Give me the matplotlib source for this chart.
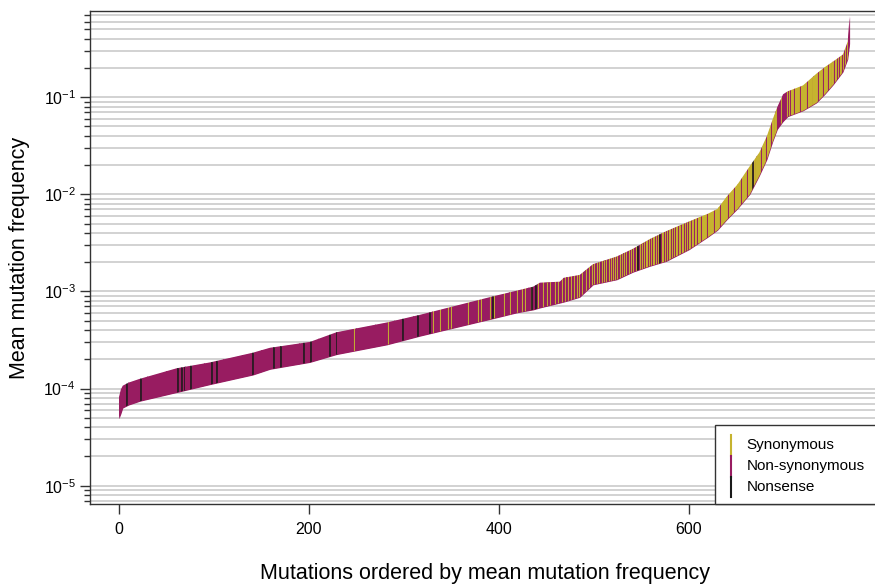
import matplotlib.pyplot as plt
from matplotlib.collections import LineCollection
from matplotlib.patches import Rectangle
from matplotlib.ticker import LogLocator, NullFormatter

plt.rcParams['font.family'] = ['Liberation Sans', 'DejaVu Sans']
plt.rcParams['mathtext.fontset'] = 'custom'
plt.rcParams['mathtext.rm'] = 'Liberation Sans'

# mutations ordered by mean frequency; band edges read at these ranks
n_mutations = 770
edge_rank = [0, 2, 4, 10, 22, 61, 96, 141, 159, 201, 229, 282, 317, 394, 419,
             436, 443, 464, 468, 485, 499, 524, 541, 559, 576, 600, 620, 630,
             640, 651, 664, 674, 682, 688, 693, 699, 704, 712, 720, 734, 743,
             752, 762, 767, 769]
upper_freq = [8.13e-5, 9.77e-5, 1.07e-4, 1.15e-4, 1.26e-4, 1.62e-4, 1.86e-4,
              2.34e-4, 2.63e-4, 3.02e-4, 3.80e-4, 4.79e-4, 5.75e-4, 8.91e-4,
              1.02e-3, 1.12e-3, 1.23e-3, 1.26e-3, 1.38e-3, 1.48e-3, 1.91e-3,
              2.29e-3, 2.75e-3, 3.47e-3, 4.17e-3, 5.25e-3, 6.31e-3, 7.08e-3,
              9.55e-3, 1.26e-2, 1.95e-2, 2.69e-2, 3.98e-2, 5.89e-2, 7.94e-2,
              0.107, 0.115, 0.123, 0.132, 0.174, 0.204, 0.234, 0.275, 0.372, 0.676]
lower_freq = [4.90e-5, 5.50e-5, 6.31e-5, 6.76e-5, 7.41e-5, 9.12e-5, 1.10e-4,
              1.38e-4, 1.58e-4, 1.86e-4, 2.24e-4, 2.82e-4, 3.47e-4, 5.25e-4,
              6.03e-4, 6.46e-4, 6.76e-4, 7.59e-4, 7.76e-4, 8.71e-4, 1.17e-3,
              1.32e-3, 1.58e-3, 1.82e-3, 2.04e-3, 2.69e-3, 3.63e-3, 4.27e-3,
              5.50e-3, 7.08e-3, 1.00e-2, 1.55e-2, 2.29e-2, 3.47e-2, 4.68e-2,
              5.62e-2, 6.31e-2, 6.76e-2, 7.24e-2, 8.71e-2, 0.107, 0.135, 0.182,
              0.245, 0.355]

nonsense_rank = [8, 23, 62, 66, 69, 76, 98, 103, 141, 163, 171, 195, 202, 222,
                 229, 299, 315, 327, 394, 435, 439, 546, 569, 667]
synonymous_rank = [
    247, 283, 331, 338, 346, 350, 367, 378, 381, 391, 395,
    405, 412, 419, 424, 427, 434, 441, 446,
    451, 454, 459, 462, 466, 469, 473, 476, 479, 482, 484, 487, 490, 492, 495, 498,
    500, 503, 505, 508, 511, 513, 516, 518, 520, 522, 524, 527, 529, 532, 534,
    537, 539, 541, 544, 548,
    550, 551, 553, 555, 556, 558, 560, 562, 563, 565, 567, 570, 572, 573, 575,
    577, 579, 580, 582, 584, 586, 587, 589, 591, 593, 594, 596, 598,
    600, 601, 603, 604, 606, 607, 609, 610, 611, 612, 614, 615, 616, 617, 618,
    620, 621, 622, 623, 624, 625, 627, 628, 629, 630, 631, 632, 634, 635, 636,
    637, 638, 639, 640, 642, 643, 644, 645, 646, 648, 649,
    650, 651, 652, 653, 654, 656, 657, 658, 659, 660, 662, 663, 664, 665, 666,
    668, 669, 671, 672, 673, 674, 675, 677, 678, 679, 680, 682, 683, 684, 685,
    687, 688, 689, 691, 692, 697,
    703, 705, 707, 708, 709, 710, 712, 713, 714, 715, 716, 718, 719, 720, 721,
    722, 723, 725, 726, 727, 728, 729, 731, 732, 733, 734, 735, 737, 738, 739,
    740, 742, 743, 744, 745, 747, 748, 749,
    751, 752, 754, 755, 757, 759, 760, 762, 764, 766]

labels = ['Synonymous', 'Non-synonymous', 'Nonsense']
syn_col = '#C6B32F'
nonsyn_col = '#981C61'
nonsense_col = '#1a1a1a'

fig = plt.figure(figsize=(8.75, 5.84), dpi=100)
ax = fig.add_axes([0.1025, 0.137, 0.903, 0.8442])
ax.set_yscale('log')

# band outline filled as background, then one vertical line per mutation in
# rank order, clipped to the band
band = ax.fill_between(edge_rank, lower_freq, upper_freq, color=nonsyn_col,
                       lw=0, zorder=2)
clip = band.get_paths()[0]

syn_set = set(synonymous_rank)
non_set = set(nonsense_rank)
segs, cols, widths = [], [], []
for r in range(n_mutations):
    segs.append([(r, 0), (r, 1)])
    if r in non_set:
        cols.append(nonsense_col)
        widths.append(1.2)
    elif r in syn_set:
        cols.append(syn_col)
        widths.append(0.8)
    else:
        cols.append(nonsyn_col)
        widths.append(0.8)
lc = LineCollection(segs, colors=cols, linewidths=widths,
                    transform=ax.get_xaxis_transform(), zorder=3)
ax.add_collection(lc, autolim=False)
lc.set_clip_path(clip, ax.transData)

ax.set_xlim(-30.8, 800.8)
ax.set_ylim(10 ** -5.188, 10 ** -0.113)

ax.set_xticks([0, 200, 400, 600])
ax.set_yticks([1e-5, 1e-4, 1e-3, 1e-2, 1e-1])
ax.set_yticklabels([r'$\mathregular{10^{-%d}}$' % k for k in [5, 4, 3, 2, 1]])
ax.yaxis.set_minor_locator(LogLocator(base=10, subs=[2, 3, 4, 5, 6, 7, 8, 9], numticks=20))
ax.yaxis.set_minor_formatter(NullFormatter())
ax.grid(True, which='both', axis='y', color='#c6c6c6', lw=1.1)
ax.set_axisbelow(True)

ax.tick_params(axis='y', which='major', length=7, width=1, pad=3, labelsize=11.5, color='#333333')
ax.tick_params(axis='y', which='minor', length=4.5, width=1, color='#333333')
ax.tick_params(axis='x', length=7, width=1, pad=6, labelsize=11.5, color='#333333')
for s in ax.spines.values():
    s.set_color('#333333')
    s.set_linewidth(1)

fig.text(20 / 875, 1 - 257.5 / 584, 'Mean mutation frequency', rotation=90,
         ha='center', va='center', fontsize=15.5)
fig.text(484.7 / 875, 1 - 573 / 584, 'Mutations ordered by mean mutation frequency',
         ha='center', va='center', fontsize=15.5)

# legend box in the bottom right corner
ax.add_patch(Rectangle((0.7914, 0), 0.25, 0.1602, transform=ax.transAxes,
                       fc='white', ec='#333333', lw=1, zorder=5, clip_on=False))
seg_y = [0.140, 0.0974, 0.0548, 0.0142]
for i, (lab, col) in enumerate(zip(labels, [syn_col, nonsyn_col, nonsense_col])):
    ax.plot([0.8114, 0.8114], [seg_y[i], seg_y[i + 1]], color=col, lw=1.5,
            transform=ax.transAxes, zorder=6, clip_on=False)
    ax.text(0.8314, (seg_y[i] + seg_y[i + 1]) / 2, lab, transform=ax.transAxes,
            ha='left', va='center', fontsize=11, zorder=6)

plt.savefig('out.png', dpi=100)
